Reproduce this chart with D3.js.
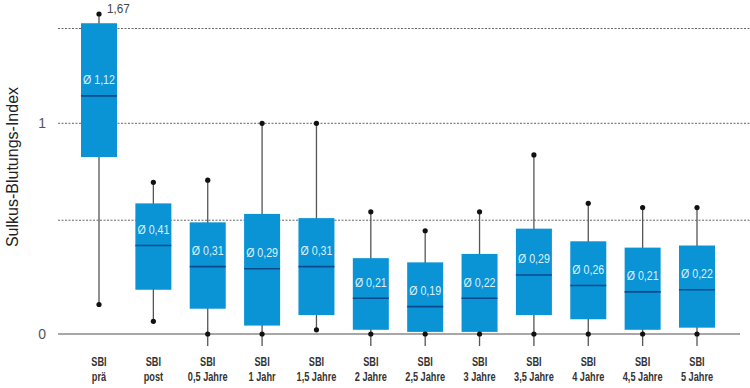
<!DOCTYPE html>
<html>
<head>
<meta charset="utf-8">
<script src="https://cdn.jsdelivr.net/npm/d3@7"></script>
<style>
  body { margin: 0; background: #fff; }
  svg { display: block; font-family: "Liberation Sans", Roboto, sans-serif; }
</style>
</head>
<body>
<div id="chart"></div>
<script>
// Kategorien und Boxplot-Werte
const cats = ["SBI|prä", "SBI|post", "SBI|0,5 Jahre", "SBI|1 Jahr", "SBI|1,5 Jahre", "SBI|2 Jahre",
              "SBI|2,5 Jahre", "SBI|3 Jahre", "SBI|3,5 Jahre", "SBI|4 Jahre", "SBI|4,5 Jahre", "SBI|5 Jahre"];
const mins    = [0.14, 0.06, 0, 0, 0.02, 0, 0, 0, 0, 0, 0, 0];
const q1s     = [0.84, 0.21, 0.12, 0.04, 0.09, 0.02, 0.01, 0.01, 0.09, 0.07, 0.02, 0.03];
const medians = [1.13, 0.42, 0.32, 0.31, 0.32, 0.17, 0.13, 0.17, 0.28, 0.23, 0.20, 0.21];
const q3s     = [1.53, 0.62, 0.53, 0.57, 0.55, 0.36, 0.34, 0.38, 0.50, 0.44, 0.41, 0.42];
const maxs    = [1.67, 0.72, 0.73, 1.00, 1.00, 0.58, 0.49, 0.58, 0.85, 0.62, 0.60, 0.60];
const meanLabels = ["Ø 1,12", "Ø 0,41", "Ø 0,31", "Ø 0,29", "Ø 0,31", "Ø 0,21",
                    "Ø 0,19", "Ø 0,22", "Ø 0,29", "Ø 0,26", "Ø 0,21", "Ø 0,22"];
const yTicks = [0, 1];
const gridVals = [0.54, 1, 1.45];

const width = 750, height = 388;
const boxW = 36;

const svg = d3.select("#chart").append("svg")
    .attr("width", width)
    .attr("height", height);

const x = d3.scalePoint().domain(cats).range([99, 697]);
// oberhalb von 1,45 gestaucht (wie im Original)
const y = d3.scaleLinear().domain([0, 1.45, 1.67]).range([334, 28.5, 14]);

const data = cats.map(function(c, i){
    return { cat: c, min: mins[i], q1: q1s[i], med: medians[i], q3: q3s[i], max: maxs[i], label: meanLabels[i] };
});

// gestrichelte Hilfslinien
svg.selectAll(".grid")
    .data(gridVals)
    .enter().append("line")
    .attr("x1", 58).attr("x2", 750)
    .attr("y1", d => y(d)).attr("y2", d => y(d))
    .attr("stroke", "#666")
    .attr("stroke-width", 1)
    .attr("stroke-dasharray", "2,1.5");

// Nulllinie
svg.append("line")
    .attr("x1", 58).attr("x2", 740)
    .attr("y1", y(0)).attr("y2", y(0))
    .attr("stroke", "#8a8a8a")
    .attr("stroke-width", 1.6);

// y-Achse Beschriftung
svg.selectAll(".ytick")
    .data(yTicks)
    .enter().append("text")
    .attr("x", 46)
    .attr("y", d => y(d))
    .attr("dy", "0.35em")
    .attr("text-anchor", "end")
    .attr("font-size", 14)
    .attr("fill", "#555")
    .text(d => d);

svg.append("text")
    .attr("transform", "translate(18,167) rotate(-90)")
    .attr("text-anchor", "middle")
    .attr("font-size", 16)
    .attr("fill", "#222")
    .text("Sulkus-Blutungs-Index");

const g = svg.append("g").selectAll("g")
    .data(data)
    .enter().append("g");

// Whisker
g.append("line")
    .attr("x1", d => x(d.cat)).attr("x2", d => x(d.cat))
    .attr("y1", d => y(d.max))
    .attr("y2", d => y(d.min) + (d.min === 0 ? 12 : 0))
    .attr("stroke", "#555")
    .attr("stroke-width", 1.3);

// Box
g.append("rect")
    .attr("x", d => x(d.cat) - boxW / 2)
    .attr("y", d => y(d.q3))
    .attr("width", boxW)
    .attr("height", d => y(d.q1) - y(d.q3))
    .attr("fill", "#0a94d6");

// Median
g.append("line")
    .attr("x1", d => x(d.cat) - boxW / 2).attr("x2", d => x(d.cat) + boxW / 2)
    .attr("y1", d => y(d.med)).attr("y2", d => y(d.med))
    .attr("stroke", "#0b4a8a")
    .attr("stroke-width", 1.6);

// Punkte
g.append("circle")
    .attr("cx", d => x(d.cat)).attr("cy", d => y(d.max))
    .attr("r", 2.6).attr("fill", "#111");
g.append("circle")
    .attr("cx", d => x(d.cat)).attr("cy", d => y(d.min))
    .attr("r", 2.6).attr("fill", "#111");

// Mittelwert-Label (schmale Schrift nachgebildet)
g.append("text")
    .attr("transform", d => "translate(" + x(d.cat) + "," + (y(d.med) - 16) + ") scale(0.85,1)")
    .attr("dy", "0.35em")
    .attr("text-anchor", "middle")
    .attr("font-size", 12.5)
    .attr("fill", "#dcf1fb")
    .text(d => d.label);

// x-Beschriftung
g.append("text")
    .attr("transform", d => "translate(" + x(d.cat) + ",0) scale(0.68,1)")
    .attr("text-anchor", "middle")
    .attr("font-size", 13.5)
    .attr("font-weight", "bold")
    .attr("fill", "#333")
    .selectAll("tspan")
    .data(d => d.cat.split("|"))
    .enter().append("tspan")
    .attr("x", 0)
    .attr("y", (d, i) => 366.5 + i * 14.5)
    .text(d => d);

// Maximalwert prä
svg.append("text")
    .attr("transform", "translate(" + (x(cats[0]) + 8) + "," + (y(maxs[0]) - 6) + ") scale(0.9,1)")
    .attr("dy", "0.35em")
    .attr("font-size", 13)
    .attr("fill", "#444")
    .text("1,67");
</script>
</body>
</html>
